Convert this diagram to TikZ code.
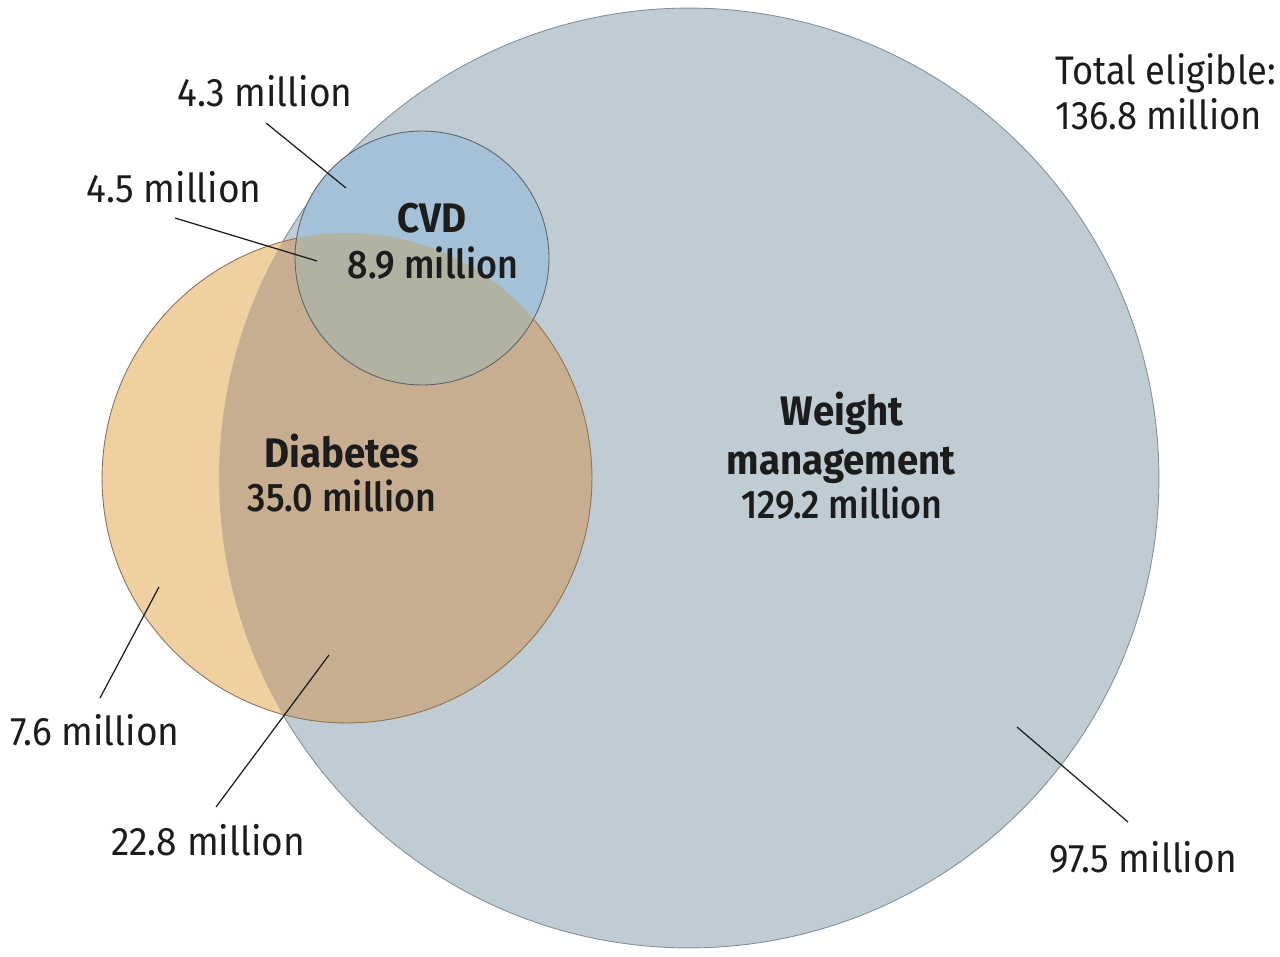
\documentclass[tikz,border=0pt]{standalone}
\usepackage{fontspec}
\setmainfont{Fira Sans}[FakeStretch=0.93]
\newfontfamily\semib{Fira Sans Medium}[FakeStretch=0.9]
\newfontfamily\narrowreg{Fira Sans}[FakeStretch=0.91]
\definecolor{wm}{RGB}{191,204,212}
\definecolor{dia}{RGB}{240,207,161}
\definecolor{dw}{RGB}{200,174,144}
\definecolor{cw}{RGB}{164,193,216}
\definecolor{cdw}{RGB}{178,178,163}
\definecolor{ink}{RGB}{28,28,28}
\definecolor{wedge}{RGB}{130,145,158}
\definecolor{dedge}{RGB}{140,115,85}
\definecolor{cedge}{RGB}{95,100,105}
\begin{document}
\begin{tikzpicture}[x=0.02cm,y=-0.02cm,
  lab/.style={anchor=base, text=ink, font=\fontsize{22.7}{27}\selectfont, inner sep=0pt},
  totlab/.style={anchor=base west, text=ink, font=\fontsize{22.7}{27}\selectfont\narrowreg, inner sep=0pt},
  head/.style={anchor=base, text=ink, font=\fontsize{23.5}{28}\selectfont\bfseries, inner sep=0pt},
  num/.style={anchor=base, text=ink, font=\fontsize{22.7}{27}\selectfont\semib, inner sep=0pt},
  leader/.style={draw=ink, line width=0.7pt},
  edgeline/.style={line width=0.5pt}]
\useasboundingbox (0,0) rectangle (1280,956);
\coordinate (W) at (689,478);
\coordinate (D) at (347,478);
\coordinate (C) at (422,258);
% weight management circle
\fill[wm] (W) circle[radius=9.4cm];
\draw[edgeline, draw=wedge] (W) circle[radius=9.4cm];
% diabetes circle
\fill[dia] (D) circle[radius=4.9cm];
\begin{scope}
  \clip (D) circle[radius=4.9cm];
  \fill[dw] (W) circle[radius=9.4cm];
\end{scope}
\draw[edgeline, draw=dedge] (D) circle[radius=4.9cm];
% CVD circle
\fill[cw] (C) circle[radius=2.54cm];
\begin{scope}
  \clip (C) circle[radius=2.54cm];
  \fill[cdw] (D) circle[radius=4.9cm];
\end{scope}
\draw[edgeline, draw=cedge] (C) circle[radius=2.54cm];
% circle labels
\node[head] (cvd) at (432,233) {CVD};
\node[num] (cvdn) at (433,278) {8.9 million};
\node[head] (diab) at (342,467) {Diabetes};
\node[num] (diabn) at (342,511) {35.0 million};
\node[head] (wt) at (842,425) {Weight};
\node[head] (mgmt) at (841,474) {management};
\node[num] (wtn) at (842,518) {129.2 million};
% total
\node[totlab] (tot1) at (1055,85) {Total eligible:};
\node[totlab] (tot2) at (1055,130) {136.8 million};
% outer labels
\node[lab] (l43) at (265,107) {4.3 million};
\node[lab] (l45) at (174,202) {4.5 million};
\node[lab] (l76) at (95,745) {7.6 million};
\node[lab] (l228) at (208,855) {22.8 million};
\node[lab] (l975) at (1143,872) {97.5 million};
% leader lines
\coordinate (a1) at (266,123); \coordinate (b1) at (346,188);
\coordinate (a2) at (175,218); \coordinate (b2) at (317,261);
\coordinate (a3) at (100,698); \coordinate (b3) at (159,587);
\coordinate (a4) at (216,807); \coordinate (b4) at (329,655);
\coordinate (a5) at (1128,822); \coordinate (b5) at (1017,727);
\draw[leader] (a1) -- (b1);
\draw[leader] (a2) -- (b2);
\draw[leader] (a3) -- (b3);
\draw[leader] (a4) -- (b4);
\draw[leader] (a5) -- (b5);
\end{tikzpicture}
\end{document}
